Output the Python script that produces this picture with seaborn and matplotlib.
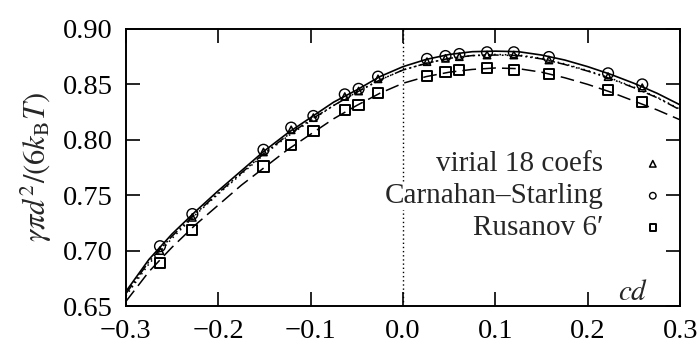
import numpy as np
import pandas as pd
import matplotlib
matplotlib.use('Agg')
import matplotlib.pyplot as plt
import seaborn as sns

# curves on a regular cd grid
cd_grid = [-0.300, -0.275, -0.250, -0.225, -0.200, -0.175, -0.150, -0.125, -0.100,
           -0.075, -0.050, -0.025, 0.000, 0.025, 0.050, 0.075, 0.100, 0.125,
           0.150, 0.175, 0.200, 0.225, 0.250, 0.275, 0.300]
curve_solid = [0.663, 0.692, 0.715, 0.735, 0.754, 0.772, 0.790, 0.806, 0.820, 0.834,
               0.845, 0.857, 0.866, 0.8725, 0.877, 0.8795, 0.880, 0.8795, 0.8765,
               0.872, 0.866, 0.859, 0.851, 0.842, 0.8315]
curve_dashdot = [0.661, 0.690, 0.713, 0.733, 0.752, 0.770, 0.788, 0.804, 0.818, 0.831,
                 0.843, 0.854, 0.863, 0.869, 0.8735, 0.876, 0.8765, 0.876, 0.873,
                 0.868, 0.862, 0.855, 0.847, 0.838, 0.827]
curve_dotted = [0.659, 0.688, 0.711, 0.732, 0.751, 0.769, 0.787, 0.803, 0.817, 0.831,
                0.843, 0.854, 0.863, 0.869, 0.8735, 0.876, 0.877, 0.8765, 0.8735,
                0.8685, 0.8625, 0.8555, 0.8475, 0.8385, 0.8275]
curve_dashed = [0.654, 0.681, 0.703, 0.723, 0.741, 0.759, 0.775, 0.791, 0.805, 0.819,
                0.831, 0.842, 0.851, 0.857, 0.861, 0.8635, 0.8648, 0.8642, 0.861,
                0.856, 0.850, 0.843, 0.835, 0.827, 0.818]

# simulation points
cd_pts = [-0.263, -0.228, -0.151, -0.121, -0.097, -0.063, -0.048, -0.027,
          0.026, 0.046, 0.061, 0.091, 0.120, 0.158, 0.222, 0.259]
virial18 = [0.700, 0.730, 0.789, 0.809, 0.820, 0.839, 0.844, 0.855,
            0.8705, 0.8735, 0.875, 0.8765, 0.8765, 0.872, 0.857, 0.847]
carnahan = [0.704, 0.733, 0.791, 0.811, 0.8215, 0.841, 0.846, 0.857,
            0.873, 0.8756, 0.8774, 0.879, 0.879, 0.8747, 0.860, 0.850]
rusanov = [0.689, 0.7186, 0.776, 0.7953, 0.808, 0.827, 0.8314, 0.842,
           0.8576, 0.8612, 0.863, 0.8648, 0.863, 0.8594, 0.845, 0.834]

sns.set_style('ticks')
plt.rcParams['font.family'] = ['Liberation Serif', 'DejaVu Serif']
plt.rcParams['mathtext.fontset'] = 'stix'

fig = plt.figure(figsize=(6.99, 3.45), dpi=100)
ax = fig.add_axes([0.180, 0.113, 0.793, 0.803])

ax.axvline(0, ls=(0, (1, 2)), lw=1.0, color='k', zorder=1)

curves = pd.DataFrame({'cd': cd_grid, 'solid': curve_solid, 'dashdot': curve_dashdot,
                       'dotted': curve_dotted, 'dashed': curve_dashed})
sns.lineplot(data=curves, x='cd', y='solid', ax=ax, color='k', lw=1.2, zorder=2)
sns.lineplot(data=curves, x='cd', y='dashdot', ax=ax, color='k', lw=1.1, zorder=2,
             dashes=False, linestyle=(0, (7, 2, 1.2, 2, 1.2, 2)))
sns.lineplot(data=curves, x='cd', y='dotted', ax=ax, color='k', lw=1.1, zorder=2,
             linestyle=(0, (1, 2.5)))
sns.lineplot(data=curves, x='cd', y='dashed', ax=ax, color='k', lw=1.1, zorder=2,
             linestyle=(0, (9, 4)))

pts = pd.DataFrame({'cd': cd_pts, 'virial': virial18, 'cs': carnahan, 'rus': rusanov})
sns.scatterplot(data=pts, x='cd', y='virial', ax=ax, marker='^', s=28,
                facecolor='none', edgecolor='k', linewidth=1.1, zorder=3,
                label='virial 18 coefs')
sns.scatterplot(data=pts, x='cd', y='cs', ax=ax, marker='o', s=60,
                facecolor='none', edgecolor='k', linewidth=1.0, zorder=3,
                label='Carnahan\u2013Starling')
sns.scatterplot(data=pts, x='cd', y='rus', ax=ax, marker='s', s=55,
                facecolor='none', edgecolor='k', linewidth=1.4, zorder=3,
                label='Rusanov 6\u2032')

ax.set_xlim(-0.3, 0.3)
ax.set_ylim(0.65, 0.90)
ax.set_xticks([-0.3, -0.2, -0.1, 0.0, 0.1, 0.2, 0.3])
ax.set_yticks([0.65, 0.70, 0.75, 0.80, 0.85, 0.90])
ax.set_xticklabels(['\u22120.3', '\u22120.2', '\u22120.1', '0.0', '0.1', '0.2', '0.3'])
ax.set_yticklabels(['0.65', '0.70', '0.75', '0.80', '0.85', '0.90'])
ax.tick_params(direction='in', length=10, width=1.2, labelsize=20.5,
               top=True, right=True, colors='k')
ax.tick_params(axis='x', pad=9)
ax.tick_params(axis='y', pad=9.5)
for s in ax.spines.values():
    s.set_linewidth(1.4)
    s.set_color('k')
ax.set_xlabel('')
ax.set_ylabel(r'$\gamma\pi d^2/(6k_\mathrm{B}T)$', fontsize=22, labelpad=6)
ax.text(0.266, 0.6555, r'$cd$', fontsize=21, ha='right', va='baseline')

leg = ax.legend(loc='upper right', bbox_to_anchor=(0.977, 0.57), markerfirst=False,
                frameon=False, fontsize=21, handlelength=0.8, handletextpad=1.3,
                labelspacing=0.19, borderpad=0.1, borderaxespad=0)
leg.set_zorder(5)
# only the label texts hide the dotted line, as in the original
for t in leg.get_texts():
    t.set_bbox(dict(facecolor='white', edgecolor='none', pad=0.5))
for h in leg.legend_handles:
    h.set_sizes([22])

plt.savefig('out.png', dpi=100)
print('OK')
